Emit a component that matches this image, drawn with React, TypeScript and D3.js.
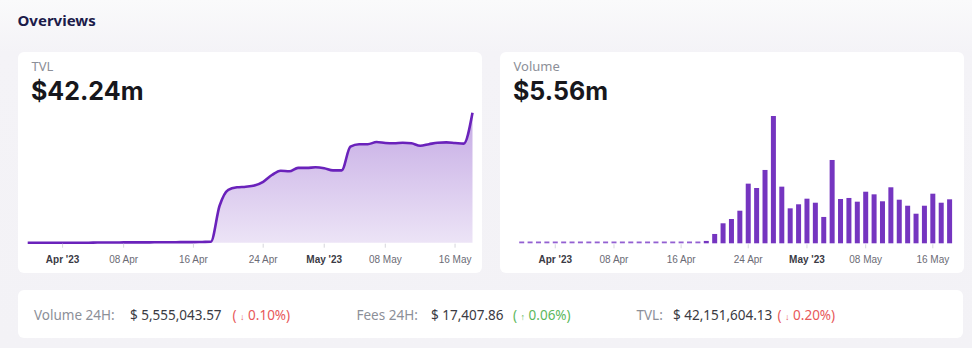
import React from "react";
import * as d3 from "d3";

// ---------- data ----------
const startDate = "2023-03-28";
const tvlValues = [
  0, 0, 0, 0, 0, 0, 0, 0, 0.05, 0.05, 0.05, 0.1, 0.1, 0.1, 0.1, 0.15, 0.15, 0.15, 0.2, 0.2, 0.25,
  0.3, 12.0, 17.2, 18.0, 18.2, 18.6, 19.8, 22.0, 23.4, 23.2, 24.3, 24.3, 24.5,
  24.2, 23.5, 23.5, 31.2, 32.0, 32.0, 32.7, 32.4, 32.3, 32.5, 32.3, 31.5, 32.0, 32.5, 32.6, 32.4, 32.2, 42.24,
];
const volumeValues = [
  0, 0, 0, 0, 0, 0, 0, 0, 0, 0, 0, 0, 0, 0, 0, 0, 0, 0, 0, 0, 0, 0,
  0.3, 1.18, 2.53, 3.07, 4.12, 7.54, 6.99, 9.27, 16.09, 7.16, 4.42, 4.93, 5.64, 5.13, 3.33,
  10.53, 5.6, 5.73, 5.26, 6.52, 6.19, 5.31, 7.08, 5.51, 4.75, 3.74, 4.75, 6.27, 5.13, 5.56,
];
const tickDates = ["2023-04-01", "2023-04-08", "2023-04-16", "2023-04-24", "2023-05-01", "2023-05-08", "2023-05-16"];
const title = "Overviews";
const tvlLabel = "TVL";
const tvlHeadline = "$42.24m";
const volLabel = "Volume";
const volHeadline = "$5.56m";
const stats = [
  { label: "Volume 24H:", value: "$ 5,555,043.57", change: "0.10%", up: false },
  { label: "Fees 24H:", value: "$ 17,407.86", change: "0.06%", up: true },
  { label: "TVL:", value: "$ 42,151,604.13", change: "0.20%", up: false },
];

const parse = d3.utcParse("%Y-%m-%d");
const day0 = parse(startDate) as Date;
const dates = tvlValues.map((_, i) => d3.utcDay.offset(day0, i));
const ticks = tickDates.map((s) => parse(s) as Date);
const isMonthStart = (d: Date) => d.getUTCDate() === 1;
const fmtTick = (d: Date) => (isMonthStart(d) ? d3.utcFormat("%b '%y")(d) : d3.utcFormat("%d %b")(d));

const HEAD_FONT = "'Noto Sans', 'Open Sans', sans-serif";
const BIG_FONT = "Inter, 'Noto Sans', sans-serif";
const AXIS_FONT = "'Liberation Sans', Arial, sans-serif";

function Axis({ x, y }: { x: d3.ScaleTime<number, number>; y: number }) {
  return (
    <g>
      {ticks.map((t, i) => (
        <g key={i} transform={`translate(${x(t)},0)`}>
          <line y1={y + 1} y2={y + 5} stroke="#d6d6dc" strokeWidth={1} />
          <text
            y={y + 20}
            textAnchor="middle"
            fontFamily={AXIS_FONT}
            fontSize={10}
            fontWeight={isMonthStart(t) ? 700 : 400}
            fill={isMonthStart(t) ? "#3a3a44" : "#6b6b75"}
          >
            {fmtTick(t)}
          </text>
        </g>
      ))}
    </g>
  );
}

export default function App() {
  const W = 972;
  const H = 348;

  // TVL chart
  const tvlBase = 242.7;
  const xT = d3.scaleUtc().domain([dates[0], dates[dates.length - 1]]).range([27.7, 472.5]);
  const yT = d3.scaleLinear().domain([0, d3.max(tvlValues) as number]).range([tvlBase, 112.7]);
  const tvlData = dates.map((d, i) => ({ d, v: tvlValues[i] }));
  const line = d3
    .line<{ d: Date; v: number }>()
    .x((p) => xT(p.d))
    .y((p) => yT(p.v))
    .curve(d3.curveMonotoneX);
  const area = d3
    .area<{ d: Date; v: number }>()
    .x((p) => xT(p.d))
    .y0(tvlBase)
    .y1((p) => yT(p.v))
    .curve(d3.curveMonotoneX);

  // Volume chart
  const volBase = 243.3;
  const xV = d3.scaleUtc().domain([dates[0], dates[dates.length - 1]]).range([521.7, 949.6]);
  const yV = d3.scaleLinear().domain([0, d3.max(volumeValues) as number]).range([volBase, 116]);
  const barW = 5;

  // stat layout positions
  const statX = [
    { l: 34, v: 130, c: 232.5 },
    { l: 356.5, v: 431, c: 513 },
    { l: 636.5, v: 673, c: 777.5 },
  ];

  return (
    <svg
      width={W}
      height={H}
      viewBox={`0 0 ${W} ${H}`}
      style={{ position: "absolute", left: 0, top: 0, display: "block" }}
    >
      <defs>
        <linearGradient id="tvlGrad" x1="0" y1="0" x2="0" y2="1">
          <stop offset="0%" stopColor="#8a55c9" stopOpacity={0.5} />
          <stop offset="100%" stopColor="#8a55c9" stopOpacity={0.16} />
        </linearGradient>
        <linearGradient id="bg" x1="0" y1="0" x2="0" y2="1">
          <stop offset="0%" stopColor="#fafafb" />
          <stop offset="15%" stopColor="#f4f3f7" />
          <stop offset="100%" stopColor="#f3f2f6" />
        </linearGradient>
      </defs>
      <rect x={0} y={0} width={W} height={H} fill="url(#bg)" />

      <text x={17.5} y={26} fontFamily={HEAD_FONT} fontWeight={700} fontSize={15} fill="#1c1b4a">
        {title}
      </text>

      {/* TVL card */}
      <rect x={18} y={52} width={464} height={221} rx={6} fill="#ffffff" />
      <text x={31.5} y={70.5} fontFamily={HEAD_FONT} fontSize={13} fill="#8c8f98">
        {tvlLabel}
      </text>
      <text x={31} y={100} fontFamily={BIG_FONT} fontWeight={700} fontSize={25} fill="#17171c">
        {tvlHeadline}
      </text>
      <path d={area(tvlData) ?? ""} fill="url(#tvlGrad)" />
      <path d={line(tvlData) ?? ""} fill="none" stroke="#6a22bb" strokeWidth={2.6} strokeLinejoin="round" />
      <Axis x={xT} y={tvlBase} />

      {/* Volume card */}
      <rect x={500} y={52} width={464} height={221} rx={6} fill="#ffffff" />
      <text x={513.5} y={70.5} fontFamily={HEAD_FONT} fontSize={13} fill="#8c8f98">
        {volLabel}
      </text>
      <text x={513} y={100} fontFamily={BIG_FONT} fontWeight={700} fontSize={25} fill="#17171c">
        {volHeadline}
      </text>
      {dates.map((d, i) => {
        const v = volumeValues[i];
        const top = v > 0 ? Math.min(yV(v), volBase - 2.2) : volBase - 1.8;
        return (
          <rect
            key={i}
            x={xV(d) - barW / 2}
            y={top}
            width={barW}
            height={volBase - top}
            fill={v > 0 ? "#7535c0" : "#9360d2"}
          />
        );
      })}
      <Axis x={xV} y={volBase} />

      {/* stats card */}
      <rect x={18} y={290} width={945} height={48} rx={6} fill="#ffffff" />
      {stats.map((s, i) => (
        <g key={i} fontFamily={HEAD_FONT} fontSize={13.5}>
          <text x={statX[i].l} y={319.5} fill="#8c8f98">
            {s.label}
          </text>
          <text x={statX[i].v} y={319.5} fill="#3a3a42">
            {s.value}
          </text>
          <text x={statX[i].c} y={319.5} fill={s.up ? "#5cb85c" : "#e8585a"}>
            {"( "}
            <tspan fontSize={9}>{s.up ? "↑" : "↓"}</tspan>
            {" " + s.change + ")"}
          </text>
        </g>
      ))}
    </svg>
  );
}
